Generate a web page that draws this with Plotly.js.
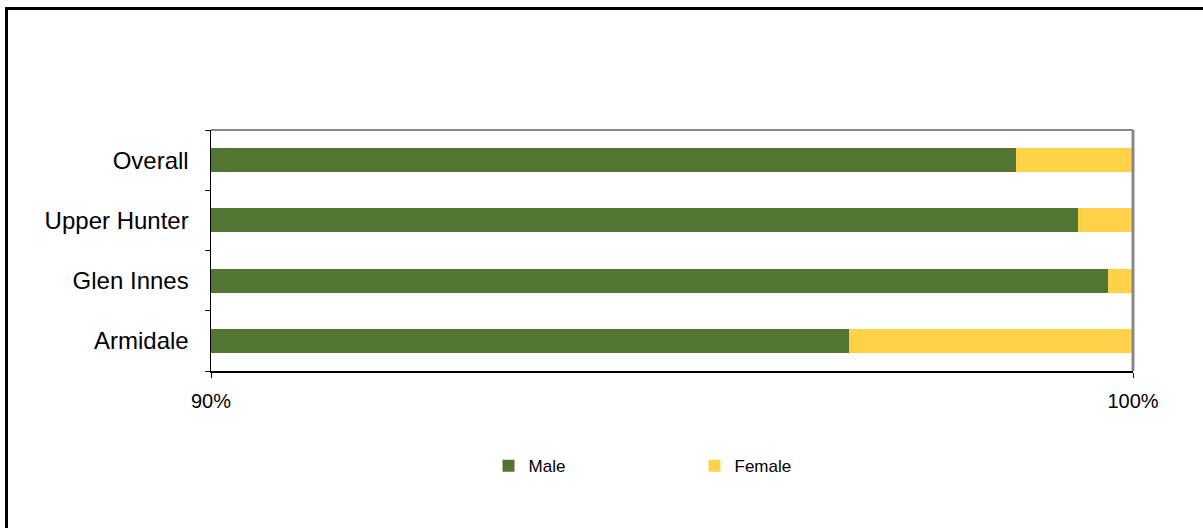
<!DOCTYPE html>
<html>
<head>
<meta charset="utf-8">
<script src="https://cdn.plot.ly/plotly-3.0.1.min.js"></script>
<style>
  html, body { margin: 0; padding: 0; background: #fff; overflow: hidden; }
  #chart { width: 1203px; height: 528px; }
  #frame { position: absolute; left: 5px; top: 7px; width: 1300px; height: 600px;
           border-top: 3px solid #000; border-left: 3px solid #000; pointer-events: none; }
</style>
</head>
<body>
<div id="chart"></div>
<div id="frame"></div>
<script>
const categories = ["Armidale", "Glen Innes", "Upper Hunter", "Overall"];
const maleShare = [0.9692, 0.9973, 0.9940, 0.9873];
const femaleShare = [0.0308, 0.0027, 0.0060, 0.0127];
const seriesNames = ["Male", "Female"];

const font = "Liberation Sans, Arial, sans-serif";

const traces = [
  {
    type: "bar", orientation: "h", name: seriesNames[0],
    y: categories, x: maleShare,
    marker: { color: "#537534" },
    hoverinfo: "x+y+name"
  },
  {
    type: "bar", orientation: "h", name: seriesNames[1],
    y: categories, x: femaleShare,
    marker: { color: "#FFD147" },
    hoverinfo: "x+y+name"
  }
];

const layout = {
  width: 1203, height: 528,
  margin: { l: 211, r: 70, t: 130, b: 157 },
  paper_bgcolor: "#fff", plot_bgcolor: "#fff",
  barmode: "stack", bargap: 0.6,
  font: { family: font, color: "#000" },
  xaxis: {
    range: [0.9, 1.0], dtick: 0.1, tick0: 0.9, tickformat: ".0%",
    showgrid: false, zeroline: false,
    showline: true, linecolor: "#000", linewidth: 1.5,
    ticks: "outside", ticklen: 5, tickcolor: "#000", tickwidth: 1,
    ticklabelstandoff: 6,
    tickfont: { size: 20, family: font, color: "#000" },
    fixedrange: true
  },
  yaxis: {
    type: "category", categoryorder: "array", categoryarray: categories,
    showgrid: false, zeroline: false,
    showline: true, linecolor: "#000", linewidth: 1.5,
    ticks: "outside", ticklen: 5, tickcolor: "#000", tickwidth: 1,
    tickson: "boundaries",
    ticklabelstandoff: 16,
    tickfont: { size: 24, family: font, color: "#000" },
    fixedrange: true
  },
  shapes: [
    { type: "line", xref: "paper", yref: "paper", x0: 0, x1: 1, y0: 1, y1: 1,
      line: { color: "#888", width: 2 } },
    { type: "line", xref: "paper", yref: "paper", x0: 1, x1: 1, y0: 0, y1: 1,
      line: { color: "#888", width: 3 } }
  ],
  showlegend: true,
  legend: {
    orientation: "h", x: 0.301, xanchor: "left", y: -0.395, yanchor: "middle",
    entrywidth: 161, entrywidthmode: "pixels",
    traceorder: "normal",
    font: { size: 17, family: font, color: "#000" },
    bgcolor: "rgba(0,0,0,0)"
  }
};

Plotly.newPlot("chart", traces, layout, { displayModeBar: false, staticPlot: true });
</script>
</body>
</html>
